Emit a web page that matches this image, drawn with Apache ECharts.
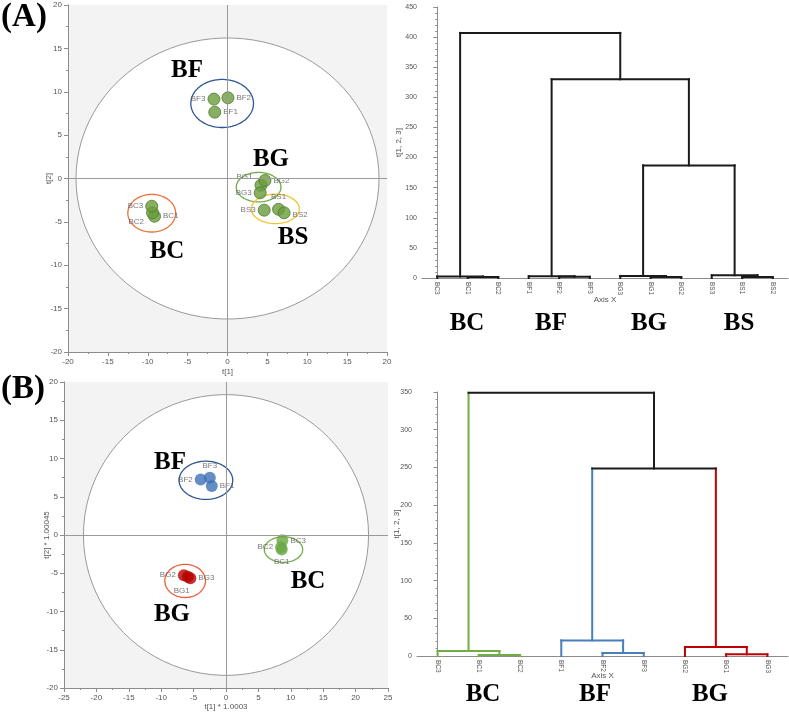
<!DOCTYPE html>
<html>
<head>
<meta charset="utf-8">
<script src="https://cdn.jsdelivr.net/npm/echarts@6/dist/echarts.min.js"></script>
<style>
  html, body { margin: 0; padding: 0; background: #fff; }
  #main { width: 789px; height: 712px; }
</style>
</head>
<body>
<div id="main"></div>
<script>
// ---- (A) score plot ----
var namesA = ['BF1', 'BF2', 'BF3', 'BG1', 'BG2', 'BG3', 'BS1', 'BS2', 'BS3', 'BC1', 'BC2', 'BC3'];
var t1A = [-1.6, 0.05, -1.7, 4.2, 4.7, 4.1, 6.4, 7.1, 4.6, -9.15, -9.4, -9.5];
var t2A = [7.65, 9.3, 9.15, -0.77, -0.23, -1.65, -3.55, -3.95, -3.65, -4.35, -3.95, -3.2];
var groupsA = ['BF', 'BG', 'BS', 'BC'];
var groupEllA = [[-0.67, 8.65, 3.93, 2.77], [3.9, -1.0, 2.8, 1.7], [6.0, -3.5, 3.0, 1.7], [-9.5, -4.0, 3.0, 2.17]];
var hotellingA = [19, 16.2];

// ---- (A) dendrogram ----
var leavesA = ['BC3', 'BC1', 'BC2', 'BF1', 'BF2', 'BF3', 'BG3', 'BG1', 'BG2', 'BS3', 'BS1', 'BS2'];
// [left, right, height]; numbers refer to earlier merges
var mergesA = [
  ['BC1', 'BC2', 1.5], ['BC3', 0, 2.5],
  ['BF2', 'BF3', 2], ['BF1', 2, 3],
  ['BG1', 'BG2', 1.5], ['BG3', 4, 3.5],
  ['BS1', 'BS2', 1.5], ['BS3', 6, 4.5],
  [5, 7, 187], [3, 8, 330], [1, 9, 407]
];

// ---- (B) score plot ----
var namesB = ['BC1', 'BC2', 'BC3', 'BF1', 'BF2', 'BF3', 'BG1', 'BG2', 'BG3'];
var t1B = [8.6, 8.5, 8.7, -2.2, -3.9, -2.5, -5.9, -6.5, -5.5];
var t2B = [-1.9, -1.6, -0.7, 6.4, 7.25, 7.5, -5.45, -5.25, -5.65];
var groupsB = ['BF', 'BC', 'BG'];
var groupEllB = [[-3.1, 7.15, 4.14, 2.5], [8.87, -1.9, 2.96, 1.67], [-6.3, -6.0, 3.14, 2.17]];
var hotellingB = [22, 18.35];

// ---- (B) dendrogram ----
var leavesB = ['BC3', 'BC1', 'BC2', 'BF1', 'BF2', 'BF3', 'BG2', 'BG1', 'BG3'];
var mergesB = [
  ['BC1', 'BC2', 1.3], ['BC3', 0, 6.6],
  ['BF2', 'BF3', 4], ['BF1', 2, 20.7],
  ['BG1', 'BG3', 2.2], ['BG2', 4, 11.9],
  [3, 5, 248.6], [1, 6, 349]
];

var palette = ['#1a1a1a', '#70ad47', '#4a7ebb', '#c00000'];
var grpColorB = { BC: 1, BF: 2, BG: 3 };
var mergeColB = [1, 1, 2, 2, 3, 3, 0, 0];

var ellColA = { BF: '#2f5597', BG: '#70ad47', BS: '#f5c232', BC: '#e8743b' };
var ellColB = { BF: '#2f5597', BC: '#70ad47', BG: '#e8603c' };
var ptColB = { BC: '#6aa843', BF: '#3d6fb6', BG: '#b80000' };

var labelPosA = {
  BF1: ['right'], BF2: ['right'], BF3: ['left'],
  BG1: ['left', [0, -8]], BG2: ['right'], BG3: ['left'],
  BS1: ['top'], BS2: ['right', [0, 2]], BS3: ['left'],
  BC1: ['right'], BC2: ['left', [0, 9]], BC3: ['left']
};
var labelPosB = {
  BF1: ['right'], BF2: ['left'], BF3: ['top'],
  BC1: ['bottom'], BC2: ['left'], BC3: ['right'],
  BG1: ['bottom', [-6, 2]], BG2: ['left'], BG3: ['right']
};

function buildSegs(leaves, merges, leafCol, mergeCol) {
  var pos = {}, nodes = [], segs = [];
  leaves.forEach(function (n, i) { pos[n] = [i, 0, leafCol(n)]; });
  merges.forEach(function (m, k) {
    var a = typeof m[0] === 'number' ? nodes[m[0]] : pos[m[0]];
    var b = typeof m[1] === 'number' ? nodes[m[1]] : pos[m[1]];
    var h = m[2], c = mergeCol(k);
    segs.push([a[0], a[1], a[0], h, a[2]]);
    segs.push([b[0], b[1], b[0], h, b[2]]);
    segs.push([a[0], h, b[0], h, c]);
    nodes.push([(a[0] + b[0]) / 2, h, c]);
  });
  return segs;
}

var segsA = buildSegs(leavesA, mergesA, function () { return 0; }, function () { return 0; });
var segsB = buildSegs(leavesB, mergesB, function (n) { return grpColorB[n.slice(0, 2)]; }, function (k) { return mergeColB[k]; });

function ellipsePts(c, sx, sy) {
  var pts = [];
  for (var i = 0; i <= 90; i++) {
    var a = i / 90 * Math.PI * 2;
    pts.push([c[0] + sx * Math.cos(a), c[1] + sy * Math.sin(a)]);
  }
  return pts;
}

function ellRender(colors, groups, fill, lw) {
  return function (params, api) {
    var c = api.coord([api.value(0), api.value(1)]);
    var sx = api.size([api.value(2), 0])[0];
    var sy = api.size([0, api.value(3)])[1];
    return {
      type: 'polygon',
      shape: { points: ellipsePts(c, sx, sy) },
      style: { fill: fill, stroke: colors ? colors[groups[params.dataIndex]] : '#9a9a9a', lineWidth: lw }
    };
  };
}

function segRender(params, api) {
  var p1 = api.coord([api.value(0), api.value(1)]);
  var p2 = api.coord([api.value(2), api.value(3)]);
  return {
    type: 'line',
    shape: { x1: p1[0], y1: p1[1], x2: p2[0], y2: p2[1] },
    style: { stroke: palette[api.value(4)], lineWidth: 2, lineCap: 'square' }
  };
}

var tickFont = { fontSize: 8, color: '#555', fontFamily: 'Liberation Sans' };
var nameFont = { fontSize: 8, color: '#555', fontFamily: 'Liberation Sans' };

function scoreAxis(gi, mn, mx, name, gap) {
  return {
    type: 'value', gridIndex: gi, min: mn, max: mx, interval: 5,
    name: name, nameLocation: 'middle', nameGap: gap, nameTextStyle: nameFont,
    nameMoveOverlap: false,
    axisLine: { show: true, onZero: false, lineStyle: { color: '#8c8c8c' } },
    axisTick: { show: true, length: 4, lineStyle: { color: '#8c8c8c' } },
    minorTick: { show: true, splitNumber: 2, length: 2, lineStyle: { color: '#8c8c8c' } },
    axisLabel: Object.assign({ margin: 6 }, tickFont),
    splitLine: { show: false }
  };
}

function dendroY(gi, mx, gap) {
  return {
    type: 'value', gridIndex: gi, min: 0, max: mx, interval: 50,
    name: 't[1, 2, 3]', nameLocation: 'middle', nameGap: gap, nameTextStyle: nameFont,
    nameMoveOverlap: false,
    axisLine: { show: true, lineStyle: { color: '#8c8c8c' } },
    axisTick: { show: true, length: 4, lineStyle: { color: '#8c8c8c' } },
    minorTick: { show: true, splitNumber: 5, length: 2, lineStyle: { color: '#8c8c8c' } },
    axisLabel: { margin: 5, fontSize: 7, color: '#555', fontFamily: 'Liberation Sans' },
    splitLine: { show: false }
  };
}

function dendroXCat(gi, leaves, gap) {
  return {
    type: 'category', gridIndex: gi, data: leaves, boundaryGap: true,
    name: 'Axis X', nameLocation: 'middle', nameGap: gap, nameTextStyle: nameFont,
    nameMoveOverlap: false,
    axisLine: { show: true, lineStyle: { color: '#8c8c8c' } },
    axisTick: { show: false },
    axisLabel: { rotate: -90, margin: 4, fontSize: 6.5, color: '#555', fontFamily: 'Liberation Sans' },
    splitLine: { show: false }
  };
}

function dendroXVal(gi, n) {
  return { type: 'value', gridIndex: gi, min: -0.5, max: n - 0.5, show: false, splitLine: { show: false } };
}

function scatterData(names, xs, ys, posMap) {
  return names.map(function (n, i) {
    var p = posMap[n];
    var lab = { show: true, formatter: n, position: p[0], distance: 2 };
    if (p[1]) lab.offset = p[1];
    return { value: [xs[i], ys[i]], name: n, label: lab };
  });
}

var crossLine = {
  silent: true, symbol: 'none', label: { show: false },
  lineStyle: { color: '#9a9a9a', type: 'solid', width: 1 },
  data: [{ xAxis: 0 }, { yAxis: 0 }]
};

var chart = echarts.init(document.getElementById('main'));
chart.setOption({
  animation: false,
  grid: [
    { left: 68, top: 5, width: 319, height: 347, show: true, backgroundColor: '#f3f3f3', borderWidth: 0 },
    { left: 422, top: 7, width: 366, height: 271 },
    { left: 64, top: 382, width: 324, height: 307, show: true, backgroundColor: '#f3f3f3', borderWidth: 0 },
    { left: 417, top: 392, width: 371, height: 264 }
  ],
  xAxis: [
    scoreAxis(0, -20, 20, 't[1]', 16),
    dendroXCat(1, leavesA, 18),
    dendroXVal(1, leavesA.length),
    scoreAxis(2, -25, 25, 't[1] * 1.0003', 15),
    dendroXCat(3, leavesB, 16),
    dendroXVal(3, leavesB.length)
  ],
  yAxis: [
    scoreAxis(0, -20, 20, 't[2]', 15),
    dendroY(1, 450, 19),
    scoreAxis(2, -20, 20, 't[2] * 1.00045', 13),
    dendroY(3, 350, 16)
  ],
  series: [
    // (A) score plot
    {
      type: 'custom', xAxisIndex: 0, yAxisIndex: 0, z: 1, silent: true,
      renderItem: ellRender(null, null, '#ffffff', 1),
      data: [[0, 0, hotellingA[0], hotellingA[1]]]
    },
    {
      type: 'custom', xAxisIndex: 0, yAxisIndex: 0, z: 3, silent: true,
      renderItem: ellRender(ellColA, groupsA, 'none', 1.3),
      data: groupEllA, markLine: crossLine
    },
    {
      type: 'scatter', xAxisIndex: 0, yAxisIndex: 0, z: 4,
      symbolSize: 12,
      itemStyle: { color: '#6a9c3c', borderColor: '#4f7a2b', borderWidth: 1 },
      label: { fontSize: 8, color: '#555', fontFamily: 'Liberation Sans' },
      data: scatterData(namesA, t1A, t2A, labelPosA)
    },
    // (A) dendrogram
    {
      type: 'custom', xAxisIndex: 2, yAxisIndex: 1, silent: true,
      encode: { x: [0, 2], y: [1, 3] },
      renderItem: segRender, data: segsA
    },
    // (B) score plot
    {
      type: 'custom', xAxisIndex: 3, yAxisIndex: 2, z: 1, silent: true,
      renderItem: ellRender(null, null, '#ffffff', 1),
      data: [[0, 0, hotellingB[0], hotellingB[1]]]
    },
    {
      type: 'custom', xAxisIndex: 3, yAxisIndex: 2, z: 3, silent: true,
      renderItem: ellRender(ellColB, groupsB, 'none', 1.3),
      data: groupEllB, markLine: crossLine
    },
    {
      type: 'scatter', xAxisIndex: 3, yAxisIndex: 2, z: 4,
      symbolSize: 12,
      itemStyle: {
        color: function (p) { return ptColB[p.name.slice(0, 2)]; },
        borderWidth: 0
      },
      label: { fontSize: 8, color: '#555', fontFamily: 'Liberation Sans' },
      data: scatterData(namesB, t1B, t2B, labelPosB)
    },
    // (B) dendrogram
    {
      type: 'custom', xAxisIndex: 5, yAxisIndex: 3, silent: true,
      encode: { x: [0, 2], y: [1, 3] },
      renderItem: segRender, data: segsB
    }
  ],
  graphic: [
    ['(A)', 24, 17, 33], ['(B)', 23, 389, 33],
    ['BF', 187, 71, 25], ['BG', 271, 160, 25], ['BS', 293, 238, 25], ['BC', 167, 252, 25],
    ['BC', 467, 324, 25], ['BF', 551, 324, 25], ['BG', 649, 324, 25], ['BS', 739, 324, 25],
    ['BF', 170, 463, 25], ['BC', 308, 582, 25], ['BG', 172, 615, 25],
    ['BC', 483, 695, 25], ['BF', 595, 695, 25], ['BG', 710, 695, 25]
  ].map(function (t) {
    return {
      type: 'text', x: t[1], y: t[2], z: 10,
      style: {
        text: t[0], fontSize: t[3], fontWeight: 'bold', fontFamily: 'Liberation Serif',
        fill: '#000', align: 'center', verticalAlign: 'middle'
      }
    };
  })
});
</script>
</body>
</html>
